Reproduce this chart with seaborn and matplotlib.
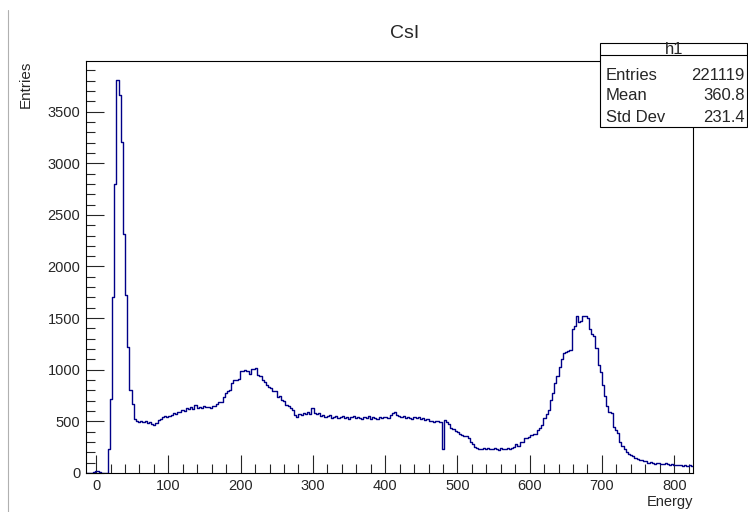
import numpy as np
import pandas as pd
import matplotlib
matplotlib.use("Agg")
import matplotlib.pyplot as plt
import seaborn as sns
from matplotlib.lines import Line2D
from matplotlib.patches import Rectangle
from matplotlib.ticker import MultipleLocator

# Histogram "h1": counts per 3-unit energy bin, first bin starts at -14
bin_width = 3
x_start = -14
counts = [
    0, 0, 0, 8, 22, 20, 6, 0, 0, 0,
    230, 720, 1700, 2800, 3810, 3660, 3210, 2310, 1720, 1220,
    805, 670, 525, 500, 495, 505, 490, 500, 480, 495,
    470, 465, 485, 515, 525, 540, 550, 545, 550, 560,
    585, 575, 595, 590, 610, 605, 625, 615, 640, 620,
    660, 630, 640, 625, 650, 635, 640, 630, 650, 645,
    665, 685, 690, 740, 775, 790, 800, 875, 900, 905,
    915, 990, 985, 995, 990, 955, 1010, 1005, 1015, 950,
    940, 905, 880, 855, 830, 825, 790, 795, 740, 745,
    710, 700, 660, 645, 630, 610, 565, 545, 570, 560,
    580, 575, 590, 570, 630, 580, 575, 580, 555, 560,
    545, 550, 560, 530, 545, 555, 535, 540, 550, 530,
    545, 525, 540, 550, 530, 545, 535, 520, 545, 530,
    550, 525, 540, 535, 520, 545, 530, 540, 545, 535,
    560, 585, 590, 560, 555, 545, 550, 530, 545, 535,
    520, 540, 530, 545, 520, 530, 515, 525, 505, 500,
    495, 505, 500, 495, 230, 510, 490, 470, 440, 430,
    410, 395, 380, 370, 360, 355, 340, 300, 280, 255,
    240, 235, 230, 245, 230, 240, 235, 230, 245, 230,
    225, 240, 235, 230, 245, 230, 240, 255, 280, 265,
    300, 305, 340, 335, 345, 365, 380, 375, 420, 440,
    465, 535, 570, 610, 710, 775, 875, 935, 1030, 1100,
    1165, 1170, 1185, 1190, 1390, 1420, 1520, 1460, 1470, 1525,
    1525, 1500, 1390, 1350, 1325, 1215, 1050, 975, 855, 750,
    645, 595, 580, 450, 420, 385, 300, 265, 230, 205,
    180, 175, 160, 150, 140, 130, 125, 120, 115, 100,
    105, 95, 90, 100, 95, 90, 85, 95, 90, 80,
    85, 80, 75, 80, 75, 70, 80, 70, 75, 72,
]
stat_names = ["Entries", "Mean", "Std Dev"]
stat_values = ["221119", "360.8", "231.4"]

edges = [x_start + bin_width * i for i in range(len(counts) + 1)]
df = pd.DataFrame({"energy": [e + bin_width / 2 for e in edges[:-1]], "entries": counts})

sns.set_style("white")
plt.rcParams['font.family'] = ['Liberation Sans', 'DejaVu Sans']

W, H = 748, 512
fig = plt.figure(figsize=(W / 100, H / 100), dpi=100)
ax = fig.add_axes([86 / W, 39 / H, 607 / W, 412 / H])

# bins passed as a plain list (numpy array trips seaborn's "auto" check)
sns.histplot(data=df, x="energy", weights="entries", bins=edges, element="step", fill=False,
             color="#000088", linewidth=1.0, ax=ax)

ax.set_xlim(-14, 826)
ax.set_ylim(0, 3990)
ax.xaxis.set_major_locator(MultipleLocator(100))
ax.xaxis.set_minor_locator(MultipleLocator(20))
ax.yaxis.set_major_locator(MultipleLocator(500))
ax.yaxis.set_minor_locator(MultipleLocator(100))
ax.tick_params(which="major", direction="in", length=13, width=0.8, labelsize=10.5,
               left=True, bottom=True, right=False, top=False, pad=4)
ax.tick_params(which="minor", direction="in", length=6.5, width=0.8,
               left=True, bottom=True, right=False, top=False)
for s in ax.spines.values():
    s.set_color("black")
    s.set_linewidth(0.8)

ax.set_xlabel("Energy", loc="right", fontsize=10.5, labelpad=2)
ax.set_ylabel("Entries", loc="top", fontsize=11)
ax.yaxis.set_label_coords(-(86 - 33) / 607, 1.0)

fig.text(405 / W, 1 - 33 / H, "CsI", ha="center", va="center", fontsize=14)

# stats box
box_l, box_r, box_t, box_b = 600, 747, 43, 127
fig.add_artist(Rectangle((box_l / W, 1 - box_b / H), (box_r - box_l) / W, (box_b - box_t) / H,
                         transform=fig.transFigure, facecolor="white", edgecolor="black", linewidth=0.8))
fig.add_artist(Line2D([box_l / W, box_r / W], [1 - 55 / H, 1 - 55 / H],
                      transform=fig.transFigure, color="black", linewidth=0.8))
fig.text(674 / W, 1 - 49.5 / H, "h1", ha="center", va="center", fontsize=12)
for i, (n, v) in enumerate(zip(stat_names, stat_values)):
    y = 1 - (75 + 21 * i) / H
    fig.text(606 / W, y, n, ha="left", va="center", fontsize=12)
    fig.text(745 / W, y, v, ha="right", va="center", fontsize=12)

# canvas edge line on the left
fig.add_artist(Line2D([8 / W, 8 / W], [0, 1 - 10 / H], transform=fig.transFigure,
                      color="#b0b0b0", linewidth=0.8))

fig.savefig("out.png", dpi=100)
